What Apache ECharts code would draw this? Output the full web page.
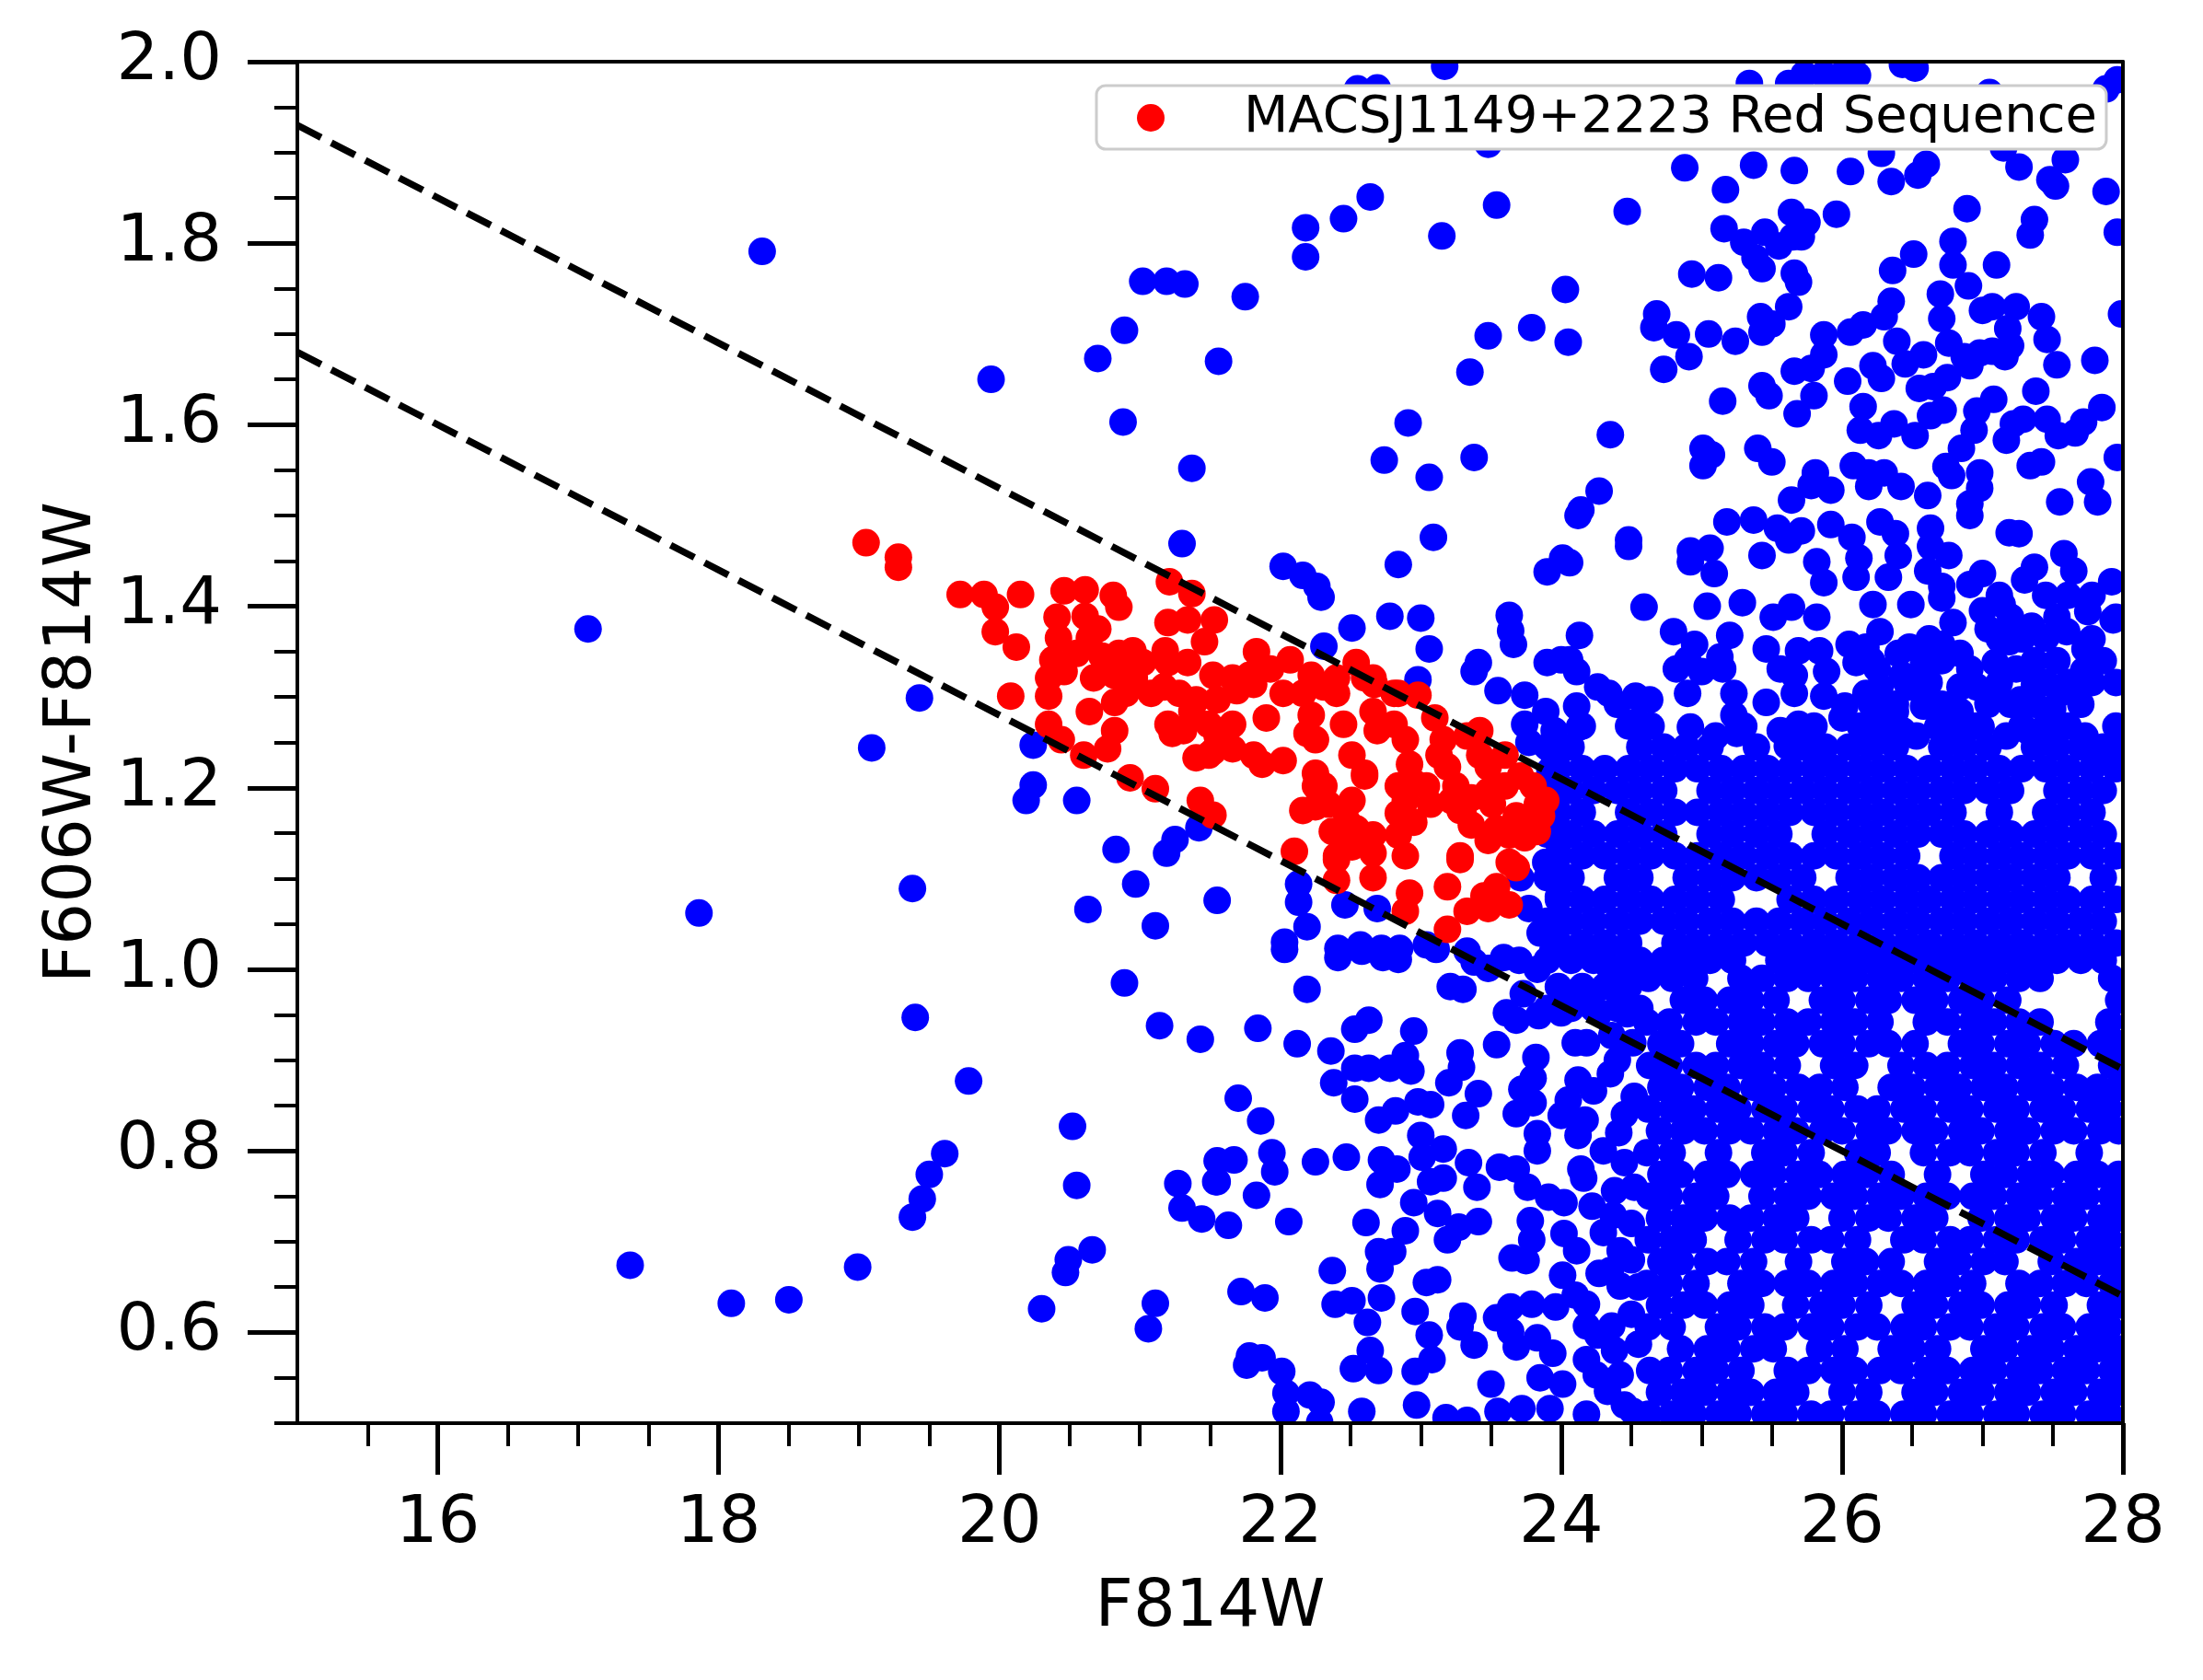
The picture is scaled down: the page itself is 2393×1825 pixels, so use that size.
<!DOCTYPE html>
<html>
<head>
<meta charset="utf-8">
<title>MACSJ1149+2223 colour-magnitude diagram</title>
<script src="https://cdn.jsdelivr.net/npm/echarts@6/dist/echarts.min.js"></script>
<style>
  html, body { margin: 0; padding: 0; background: #fff; }
  #chart { width: 2393px; height: 1825px; }
</style>
</head>
<body>
<div id="chart"></div>
<script>
// ---- data: [F814W, F606W-F814W] ----

// sparse blue points, bright end (F814W < 21.6)
const blueSparse = [
  [17.07,1.375],[18.31,1.791],[17.86,1.062],[17.37,0.674],[18.09,0.632],[18.50,0.636],[18.99,0.672],
  [19.09,1.244],[19.38,1.089],[19.40,0.947],[19.43,1.299],[19.78,0.877],[19.61,0.797],[19.50,0.774],
  [19.45,0.747],[19.38,0.727],[19.94,1.650],[20.30,0.626],[20.19,1.186],[20.24,1.203],[20.24,1.247],
  [20.55,1.186],[20.63,1.066],[20.52,0.827],[20.55,0.762],[20.47,0.666],[20.49,0.680],[20.66,0.691],
  [20.70,1.673],[20.88,1.603],[20.89,1.704],[20.83,1.132],[20.89,0.985],[20.97,1.094],[21.02,1.758],
  [21.19,1.758],[21.32,1.755],[21.11,1.048],[21.14,0.938],[21.11,0.632],[21.06,0.604],[21.27,0.764],
  [21.30,0.737],[21.37,1.552],[21.30,1.469],[21.19,1.128],[21.25,1.143],[21.42,1.156],[21.43,0.923],
  [21.44,0.725],[21.55,1.076],[21.55,0.766],[21.55,0.789]
];

// blue points between the bright end and the dense cloud
const blueMiddle = [
  [22.02,1.444],[22.16,1.434],[22.26,1.422],[22.29,1.410],[22.84,1.446],[23.90,1.438],[24.01,1.453],
  [22.78,1.389],[23.00,1.387],[22.51,1.376],[22.31,1.356],[23.06,1.353],[22.98,1.319],[23.63,1.390],
  [23.64,1.373],[23.66,1.358],[23.41,1.338],[23.38,1.328],[23.55,1.307],[23.74,1.302],[23.90,1.338],
  [24.00,1.341],[23.89,1.284],[23.95,1.263],[23.74,1.270],[23.77,1.250],[23.92,1.219],[23.95,1.235],
  [23.97,1.200],[23.95,1.170],[23.98,1.140],[23.96,1.110],[23.89,1.118],[23.98,1.080],[23.95,1.050],
  [23.77,1.067],[23.85,1.040],[23.71,1.101],[22.13,1.094],[22.13,1.074],[22.19,1.047],[22.46,1.071],
  [22.03,1.030],[22.41,1.023],[22.57,1.027],[22.72,1.023],[22.85,1.023],[22.69,1.067],[23.04,1.027],
  [23.33,1.020],
  [22.03,1.022],[22.41,1.013],[22.58,1.020],[22.73,1.013],[22.84,1.011],[23.11,1.022],[22.19,0.978],
  [23.21,0.981],[23.30,0.978],[23.38,1.008],[23.48,1.001],[23.59,1.013],[23.70,1.010],[23.83,1.000],
  [23.94,1.020],[24.05,1.022],[24.18,1.017],[24.34,1.003],[24.46,0.983],[24.52,1.006],
  [23.61,0.952],[23.68,0.944],[23.73,0.973],[23.84,0.949],[24.00,0.952],[24.05,0.973],[24.18,0.973],
  [24.27,0.952],[24.47,0.951],[24.51,0.919],[24.10,0.919],[24.18,0.919],[24.36,0.927],
  [21.84,0.935],[22.12,0.918],[22.36,0.910],[22.53,0.934],[22.63,0.944],[22.95,0.932],[22.89,0.905],
  [22.38,0.875],[22.53,0.891],[22.63,0.891],[22.78,0.891],[22.93,0.888],[22.53,0.857],[22.70,0.834],
  [22.82,0.844],[22.98,0.854],[23.07,0.851],[23.28,0.908],[23.29,0.892],[23.20,0.875],[23.41,0.863],
  [23.32,0.839],[23.54,0.917],[23.82,0.903],[23.80,0.880],[23.72,0.868],[23.80,0.853],[23.68,0.841],
  [24.12,0.878],[24.35,0.885],[24.23,0.866],[24.05,0.856],[24.00,0.839],[24.17,0.834],[23.83,0.819],
  [23.83,0.800],[24.12,0.817],[24.41,0.820],
  [21.70,0.858],[21.86,0.833],[21.67,0.790],[21.54,0.766],[21.94,0.798],[21.96,0.777],[22.25,0.788],
  [22.47,0.793],[22.72,0.790],[22.83,0.780],[22.71,0.763],[23.00,0.817],[23.16,0.802],[23.01,0.793],
  [23.07,0.766],[23.16,0.770],[23.34,0.787],[23.40,0.760],[23.56,0.782],[23.68,0.780],[23.76,0.760],
  [23.91,0.749],[24.02,0.743],[24.14,0.780],[24.16,0.770],[24.22,0.739],[24.38,0.756],[24.37,0.729],
  [24.45,0.787],
  [21.63,0.718],[21.83,0.751],[22.06,0.722],[22.61,0.721],[22.89,0.712],[22.95,0.743],[23.12,0.731],
  [23.19,0.702],[23.27,0.716],[23.41,0.722],[22.70,0.689],[22.80,0.689],[22.71,0.670],[23.78,0.723],
  [23.79,0.702],[23.65,0.682],[23.75,0.679],[24.02,0.709],[24.11,0.690],[24.42,0.690],[24.35,0.668],
  [24.27,0.665],[24.01,0.663],[24.42,0.651],
  [22.37,0.668],[23.12,0.658],[23.04,0.655],[21.72,0.645],[21.89,0.638],[22.39,0.631],[22.51,0.635],
  [22.62,0.611],[22.72,0.638],[22.96,0.623],[23.06,0.597],[23.30,0.618],[23.28,0.606],[23.38,0.586],
  [23.54,0.616],[23.64,0.628],[23.79,0.631],[23.64,0.601],[23.68,0.584],[23.83,0.594],[23.96,0.628],
  [23.94,0.577],[23.85,0.550],[24.01,0.543],[23.92,0.516],[24.10,0.641],[24.18,0.631],[24.18,0.607],
  [24.36,0.607],[24.26,0.597],[24.18,0.570],[24.25,0.553],[24.42,0.553],[24.55,0.587],[24.51,0.513],
  [21.78,0.574],[21.76,0.564],[21.87,0.572],[22.01,0.557],[22.04,0.533],[22.04,0.513],[22.21,0.531],
  [22.29,0.523],[22.28,0.501],[22.52,0.560],[22.64,0.580],[22.70,0.558],[22.58,0.513],[22.96,0.557],
  [23.08,0.570],[22.97,0.520],[23.18,0.506],[23.33,0.503],[23.50,0.543],[23.55,0.513],[23.72,0.516],
  [24.18,0.510],
  [24.45,0.970],[24.40,0.900],[24.52,0.860],[24.45,0.840],[24.30,0.800],[24.52,0.760],[24.50,0.720],
  [24.30,0.710],[24.50,0.680],[24.55,0.650],[24.50,0.620],[24.38,0.580],[24.45,0.520],[24.33,0.535]
];

// blue points in the upper half of the plot (colour > 1.47)
const blueUpper = [
  [23.17,1.995],[22.55,1.970],[22.69,1.971],[23.48,1.909],[22.64,1.851],[22.45,1.827],[22.18,1.817],
  [22.18,1.785],[23.15,1.808],[23.54,1.842],[24.47,1.835],[21.75,1.741],[21.56,1.670],[24.03,1.749],
  [23.79,1.707],[23.48,1.698],[24.05,1.691],[23.35,1.658],[24.68,1.722],[24.66,1.707],[24.82,1.699],
  [24.73,1.661],[22.91,1.602],[22.74,1.561],[23.06,1.542],[23.38,1.564],[24.35,1.589],[24.27,1.527],
  [24.14,1.506],[24.12,1.500],[23.09,1.476],[24.48,1.473],
  [25.34,1.976],[25.62,1.976],[25.73,1.986],[25.87,1.986],[26.00,1.986],[26.11,1.985],[26.43,1.997],
  [26.52,1.993],[27.05,1.966],[27.88,1.970],[27.96,1.980],
  [24.88,1.883],[25.37,1.886],[25.66,1.880],[26.06,1.879],[26.28,1.899],[26.35,1.868],[26.54,1.875],
  [26.60,1.887],[27.15,1.905],[27.26,1.884],[27.59,1.892],[27.48,1.870],[27.52,1.863],[27.88,1.857],
  [25.17,1.859],[25.64,1.834],[25.75,1.823],[25.96,1.832],[26.89,1.838],[27.37,1.826],[27.34,1.809],
  [27.96,1.812],[25.16,1.816],[25.30,1.801],[25.45,1.812],[25.38,1.784],[25.43,1.772],[25.65,1.807],
  [25.71,1.807],[25.55,1.797],[24.93,1.766],[25.12,1.762],[25.66,1.767],[25.69,1.757],[26.51,1.788],
  [26.79,1.802],[26.79,1.776],[26.90,1.753],[27.10,1.776],[26.36,1.770],[26.70,1.744],[26.71,1.717],
  [26.35,1.736],[26.30,1.719],[26.15,1.710],[26.06,1.702],[25.87,1.699],[25.87,1.677],[25.78,1.662],
  [25.66,1.659],[26.39,1.692],[26.58,1.677],[26.45,1.667],[26.22,1.665],[26.28,1.651],[26.04,1.648],
  [26.76,1.690],[26.87,1.675],[26.98,1.679],[27.07,1.681],[27.16,1.675],[26.91,1.665],[27.00,1.726],
  [27.07,1.730],[27.24,1.730],[27.18,1.706],[27.20,1.687],[27.42,1.719],[27.46,1.694],[27.53,1.666],
  [27.80,1.671],[27.99,1.722],[25.05,1.700],[25.24,1.692],[24.91,1.675],[25.42,1.719],[25.50,1.711],
  [25.43,1.702],[25.62,1.730],[26.75,1.652],[26.65,1.642],[26.55,1.640],[26.72,1.616],[26.63,1.610],
  [26.15,1.620],[26.13,1.594],[26.26,1.588],[26.37,1.601],[26.52,1.588],[27.08,1.628],[26.96,1.615],
  [26.94,1.594],[26.85,1.574],[27.17,1.583],[27.22,1.601],[27.29,1.606],[27.38,1.637],[27.46,1.606],
  [27.54,1.588],[27.66,1.591],[27.72,1.603],[27.85,1.619],[27.96,1.564],[25.15,1.626],[25.43,1.643],
  [25.48,1.632],[25.80,1.632],[25.68,1.612],[25.01,1.574],[25.07,1.567],[25.01,1.555],[25.40,1.574],
  [25.50,1.559],[25.81,1.547],[25.78,1.533],[25.92,1.528],[26.08,1.555],[26.19,1.547],[26.30,1.547],
  [26.19,1.532],[26.42,1.532],[26.61,1.522],[26.74,1.554],[26.78,1.544],[26.98,1.547],[26.98,1.530],
  [26.91,1.513],[27.34,1.555],[27.42,1.559],[27.77,1.537],[27.82,1.515],[27.55,1.515],[25.64,1.517]
];

// blue points, faint end, colour 1.25 - 1.5
const blueRight = [
  [24.48,1.466],[24.06,1.448],[24.92,1.461],[25.06,1.464],[24.92,1.449],[25.09,1.436],[25.18,1.493],
  [25.37,1.495],[25.43,1.456],[25.54,1.486],[25.62,1.473],[25.71,1.483],[25.92,1.490],[26.07,1.476],
  [26.12,1.453],[25.82,1.449],[25.87,1.426],[26.10,1.432],[26.27,1.493],[26.38,1.480],[26.40,1.456],
  [26.33,1.432],[26.63,1.486],[26.63,1.466],[26.76,1.456],[26.61,1.439],[26.91,1.500],[27.19,1.481],
  [27.26,1.480],[27.58,1.458],[27.65,1.439],[27.37,1.443],[27.30,1.429],[27.45,1.412],[27.00,1.436],
  [26.91,1.424],[26.71,1.422],[27.92,1.427],[27.75,1.394],[27.93,1.385],[27.60,1.372],[27.45,1.365],
  [27.35,1.378],[27.73,1.353],[27.72,1.329],[27.55,1.304],[27.68,1.304],[27.50,1.287],[27.37,1.314],
  [24.59,1.399],[24.13,1.368],[25.04,1.400],[25.29,1.404],[25.51,1.388],[25.64,1.399],[25.82,1.388],
  [26.22,1.402],[26.49,1.402],[26.27,1.372],[26.05,1.358],[26.17,1.355],[26.40,1.348],[26.48,1.355],
  [26.71,1.409],[27.00,1.395],[27.14,1.402],[26.79,1.382],[27.04,1.375],[27.19,1.361],[26.71,1.358],
  [26.84,1.348],[26.58,1.338],[26.91,1.331],[27.09,1.338],[27.24,1.331],[27.40,1.314],
  [24.80,1.372],[24.95,1.358],[25.20,1.368],[25.13,1.344],[24.90,1.341],[24.82,1.331],[25.00,1.328],
  [25.15,1.331],[25.46,1.353],[25.69,1.351],[25.84,1.351],[25.56,1.331],[25.66,1.324],[25.89,1.328],
  [26.10,1.338],[26.25,1.331],[26.43,1.324],[24.90,1.304],[25.23,1.304],[24.11,1.328],[24.06,1.341],
  [24.26,1.311],[24.34,1.304],[24.53,1.301],[24.63,1.297],[25.46,1.294],[25.66,1.304],[25.87,1.301],
  [26.02,1.290],[26.17,1.304],[26.27,1.311],[26.48,1.311],[26.58,1.321],[26.84,1.311],[26.96,1.311],
  [27.04,1.294],[27.27,1.297],[26.84,1.284],[26.58,1.290],[26.38,1.284],
  [24.11,1.290],[24.13,1.267],[24.54,1.273],[24.92,1.267],[25.23,1.280],[25.25,1.260],[25.10,1.257],
  [25.56,1.263],[25.69,1.270],[25.61,1.246],[25.76,1.253],[25.87,1.243],[26.00,1.277],[26.20,1.267],
  [26.22,1.250],[26.43,1.263],[26.53,1.257],[26.68,1.267],[26.84,1.253],[26.99,1.267],[27.17,1.257],
  [27.32,1.263],[27.50,1.263],[27.73,1.257],[27.81,1.236],[27.96,1.246]
];

// the crowded faint block, colour 0.95 - 1.41: one row per colour level, F814W values along it
const blueMidRows = [
  [1.412, [27.12,27.61,27.78]],
  [1.388, [27.20,27.53,27.95]],
  [1.364, [26.62,27.12,27.28,27.78]],
  [1.340, [26.21,26.71,27.37,27.53,27.86]],
  [1.316, [26.46,26.62,27.12,27.45,27.61,27.78,27.95]],
  [1.292, [24.40,26.21,26.38,26.71,27.04,27.20,27.37,27.70]],
  [1.268, [24.15,24.48,24.64,25.30,25.80,26.13,26.29,26.79,26.95,27.28,27.45,27.61,27.95]],
  [1.245, [23.90,24.07,24.56,24.73,24.89,25.06,25.39,25.72,25.88,26.05,26.21,26.38,26.71,26.87,27.04,27.37,27.53,27.70,27.86]],
  [1.221, [23.98,24.15,24.31,24.48,24.64,24.81,24.97,25.14,25.30,25.47,25.63,25.80,25.96,26.13,26.29,26.46,26.62,26.79,26.95,27.12,27.28,27.45,27.61,27.78,27.95]],
  [1.197, [23.90,24.07,24.23,24.40,24.56,24.73,25.06,25.22,25.39,25.55,25.72,25.88,26.05,26.21,26.38,26.54,26.71,26.87,27.04,27.20,27.53,27.70,27.86]],
  [1.173, [23.98,24.15,24.48,24.64,24.81,24.97,25.14,25.30,25.47,25.63,25.80,25.96,26.13,26.29,26.46,26.62,26.79,27.12,27.45,27.61,27.78]],
  [1.149, [23.90,24.07,24.23,24.40,24.56,24.73,25.06,25.22,25.39,25.55,25.88,26.05,26.21,26.38,26.54,26.71,26.87,27.04,27.20,27.37,27.53,27.70,27.86]],
  [1.125, [23.98,24.15,24.31,24.48,24.64,24.81,24.97,25.14,25.30,25.47,25.63,25.80,25.96,26.13,26.29,26.46,26.79,26.95,27.12,27.28,27.45,27.61,27.78,27.95]],
  [1.101, [23.90,24.07,24.40,24.56,24.89,25.06,25.22,25.39,25.55,25.72,26.05,26.21,26.38,26.54,26.71,26.87,27.04,27.20,27.37,27.53,27.86]],
  [1.077, [23.98,24.15,24.31,24.48,24.64,24.81,24.97,25.14,25.63,25.80,25.96,26.13,26.29,26.46,26.62,26.79,26.95,27.12,27.28,27.45,27.61,27.78,27.95]],
  [1.053, [23.90,24.07,24.23,24.40,24.56,24.73,24.89,25.06,25.22,25.39,25.55,25.72,25.88,26.05,26.21,26.38,26.54,26.71,26.87,27.04,27.20,27.37,27.53,27.70,27.86]],
  [1.029, [23.98,24.15,24.31,24.48,24.81,24.97,25.14,25.30,25.47,25.63,25.80,25.96,26.13,26.29,26.46,26.62,26.79,26.95,27.12,27.28,27.45,27.61,27.78,27.95]],
  [1.010, [23.90,24.07,24.23,24.40,24.56,24.73,24.89,25.06,25.22,25.55,25.72,25.88,26.05,26.21,26.38,26.54,26.71,26.87,27.04,27.20,27.37,27.53,27.70,27.86]],
  [0.981, [23.98,24.15,24.31,24.48]],
  [0.957, [23.90,24.07,24.23,24.40,24.56]]
];

// the crowded faint, blue corner (colour < 1.0)
const blueDenseRows = [
  [0.990, [24.62,24.79,24.95,25.28,25.43,25.61,25.76,25.94,26.09,26.27,26.42,26.60,26.75,26.93,27.08,27.26,27.41,27.92]],
  [0.966, [24.87,25.02,25.20,25.35,25.53,25.86,26.00,26.19,26.33,26.52,26.66,26.85,26.99,27.18,27.97]],
  [0.942, [24.61,24.77,24.96,25.10,25.28,25.43,25.61,25.76,25.94,26.09,26.27,26.60,26.75,26.93,27.08,27.26,27.41,27.90]],
  [0.918, [24.71,24.85,25.20,25.35,25.53,25.67,25.86,26.00,26.19,26.33,26.52,26.85,26.99,27.18,27.32,27.51,27.65,27.84,27.97]],
  [0.894, [24.63,24.77,24.96,25.10,25.28,25.43,25.61,25.94,26.09,26.42,26.60,26.75,26.93,27.08,27.26,27.41,27.59,27.92]],
  [0.870, [24.71,24.85,25.04,25.18,25.37,25.51,25.69,25.84,26.02,26.35,26.50,26.68,26.83,27.01,27.16,27.34,27.49,27.67,27.82,27.97]],
  [0.846, [24.62,24.79,24.94,25.12,25.26,25.45,25.59,25.78,25.92,26.11,26.25,26.44,26.58,26.77,26.91,27.10,27.24,27.43,27.57,27.76,27.90]],
  [0.822, [24.70,24.87,25.02,25.20,25.35,25.53,25.67,25.86,26.00,26.19,26.33,26.52,26.66,26.85,26.99,27.18,27.32,27.51,27.65,27.84,27.97]],
  [0.798, [24.61,24.79,25.12,25.45,25.59,25.78,26.11,26.25,26.58,26.77,26.91,27.10,27.24,27.43,27.76]],
  [0.774, [24.71,24.85,25.04,25.18,25.37,25.51,25.69,25.84,26.02,26.17,26.35,26.68,27.01,27.16,27.34,27.49,27.67,27.82,27.97]],
  [0.750, [24.63,24.77,24.96,25.10,25.43,25.61,25.76,25.94,26.09,26.27,26.42,26.60,26.75,26.93,27.08,27.26,27.41,27.59,27.74,27.92]],
  [0.726, [24.70,24.87,25.02,25.20,25.35,25.53,25.67,26.00,26.19,26.33,26.52,26.66,26.99,27.18,27.32,27.51,27.65,27.84,27.97]],
  [0.702, [24.62,24.79,24.94,25.26,25.45,25.59,25.78,25.92,26.11,26.44,26.58,26.77,26.91,27.10,27.24,27.43,27.57,27.76,27.90]],
  [0.678, [24.71,24.85,25.04,25.18,25.37,25.69,26.02,26.17,26.35,26.68,26.83,27.01,27.16,27.49,27.67,27.82,27.97]],
  [0.654, [24.61,24.77,24.96,25.28,25.43,25.61,25.76,25.94,26.09,26.27,26.42,26.60,26.75,26.93,27.26,27.41,27.59,27.74,27.92]],
  [0.630, [24.70,24.87,25.02,25.20,25.35,25.67,25.86,26.00,26.19,26.52,26.66,26.85,26.99,27.18,27.32,27.51,27.84,27.97]],
  [0.606, [24.62,24.79,25.12,25.26,25.45,25.59,25.78,25.92,26.11,26.25,26.44,26.58,26.77,26.91,27.10,27.24,27.43,27.57,27.76,27.90]],
  [0.582, [24.85,25.04,25.18,25.37,25.51,25.84,26.02,26.35,26.50,26.68,27.01,27.16,27.34,27.49,27.67,27.82,27.97]],
  [0.558, [24.63,24.77,24.96,25.10,25.28,25.61,25.76,25.94,26.09,26.27,26.42,26.60,26.75,26.93,27.08,27.26,27.41,27.59,27.74,27.92]],
  [0.534, [24.70,24.87,25.02,25.20,25.35,25.53,25.67,26.00,26.19,26.52,26.66,26.85,26.99,27.18,27.32,27.51,27.65,27.84,27.97]],
  [0.510, [24.62,24.79,24.94,25.12,25.26,25.45,25.59,25.78,25.92,26.11,26.25,26.44,26.58,26.77,26.91,27.10,27.24,27.43,27.57,27.76,27.90]]
];

// red sequence members
const redSequence = [
  [19.05,1.470],[19.28,1.454],[19.28,1.443],
  [19.72,1.413],[19.89,1.413],[19.97,1.399],[20.15,1.413],[19.97,1.372],[20.12,1.355],
  [20.46,1.417],[20.61,1.418],[20.81,1.412],[20.85,1.399],[20.41,1.388],[20.61,1.389],[20.70,1.375],
  [20.42,1.365],[20.64,1.365],[20.38,1.341],[20.55,1.348],[20.73,1.345],[20.85,1.348],[20.95,1.351],
  [20.35,1.321],[20.46,1.328],[20.67,1.321],[20.82,1.324],[20.96,1.321],[20.96,1.331],[21.02,1.338],
  [20.08,1.301],[20.35,1.301],[20.82,1.294],[20.64,1.284],[20.35,1.270],[20.44,1.253],[20.60,1.236],
  [20.77,1.243],[20.82,1.263],[20.90,1.304],[21.08,1.304],[21.28,1.304],
  [21.21,1.427],[21.37,1.414],[21.20,1.382],[21.34,1.385],[21.53,1.385],[21.46,1.361],[21.18,1.351],
  [21.20,1.338],[21.34,1.338],[21.17,1.311],[21.52,1.324],[21.40,1.297],[21.55,1.297],[21.37,1.284],
  [21.20,1.270],[21.23,1.260],[21.49,1.270],[21.55,1.257],[21.40,1.233],[21.52,1.240],[21.66,1.270],
  [21.66,1.243],[21.31,1.263],[21.49,1.236],[21.66,1.321],[21.78,1.324],
  [21.83,1.350],[22.07,1.341],[21.81,1.314],[21.69,1.307],[21.90,1.277],[21.87,1.226],[21.81,1.236],
  [22.02,1.304],[22.02,1.230],[22.16,1.304],[22.22,1.280],[22.19,1.260],[22.31,1.311],[22.40,1.304],
  [22.60,1.321],[22.67,1.314],[22.84,1.304],[22.81,1.304],[22.98,1.302],[21.93,1.331],[22.22,1.324],
  [22.40,1.321],[22.54,1.338],[22.66,1.321],
  [22.25,1.253],[22.25,1.216],[22.31,1.202],[22.25,1.202],[22.45,1.270],[22.51,1.236],[22.51,1.186],
  [22.66,1.284],[22.69,1.263],[22.60,1.216],[22.81,1.270],[22.89,1.253],[22.92,1.226],[22.95,1.206],
  [22.89,1.186],[22.84,1.202],[22.95,1.162],
  [23.10,1.277],[23.16,1.253],[23.13,1.236],[23.19,1.223],[23.25,1.202],[23.33,1.257],[23.42,1.263],
  [23.42,1.236],[23.48,1.223],[23.48,1.196],[23.60,1.236],[23.71,1.213],[23.80,1.202],[23.83,1.182],
  [23.83,1.152],[23.68,1.169],[23.63,1.148],[23.54,1.155],[23.48,1.142],[23.36,1.159],[23.28,1.175],
  [23.22,1.186],[23.04,1.202],[23.07,1.182],[23.36,1.189],[23.60,1.202],[23.51,1.182],[23.30,1.175],
  [23.86,1.169],[23.89,1.186],[23.74,1.145],
  [22.84,1.148],[22.84,1.172],[22.89,1.125],[22.92,1.084],[22.89,1.064],[22.66,1.128],[22.66,1.148],
  [22.54,1.155],[22.43,1.148],[22.40,1.125],[22.40,1.121],[22.16,1.175],[22.25,1.179],[22.10,1.130],
  [22.40,1.098],[22.46,1.175],[22.34,1.182],[22.37,1.152],[22.48,1.162],[22.51,1.135],[22.66,1.101],
  [22.60,1.213],
  [23.28,1.125],[23.28,1.121],[23.19,1.091],[23.33,1.064],[23.45,1.081],[23.54,1.091],[23.63,1.071],
  [23.68,1.112],[23.63,1.118],[23.48,1.067],[23.19,1.044],
  [21.43,1.186],[21.52,1.170],[20.93,1.211],[21.11,1.199]
];

// the two dashed selection lines
const upperCut = [[15, 1.93], [28, 0.89]];
const lowerCut = [[15, 1.68], [28, 0.64]];

// ticks and labels
const xMajorTicks = [16, 18, 20, 22, 24, 26, 28];
const xMinorTicks = [15.5, 16.5, 17, 17.5, 18.5, 19, 19.5, 20.5, 21, 21.5, 22.5, 23, 23.5, 24.5, 25, 25.5, 26.5, 27, 27.5];
const yMajorTicks = [0.6, 0.8, 1.0, 1.2, 1.4, 1.6, 1.8, 2.0];
const yMinorTicks = [0.5, 0.55, 0.65, 0.7, 0.75, 0.85, 0.9, 0.95, 1.05, 1.1, 1.15, 1.25, 1.3, 1.35,
  1.45, 1.5, 1.55, 1.65, 1.7, 1.75, 1.85, 1.9, 1.95];

const redName = 'MACSJ1149+2223 Red Sequence';

// ---- chart ----
const FONT = "'DejaVu Sans', sans-serif";
const chart = echarts.init(document.getElementById('chart'));

const blueData = [].concat(blueSparse, blueMiddle, blueUpper, blueRight);
blueMidRows.concat(blueDenseRows).forEach(([y, xs]) => {
  xs.forEach(x => blueData.push([x, y]));
});

const labelStyle = { fontSize: 72, fontFamily: FONT, color: '#000' };
const spine = { show: true, onZero: false, lineStyle: { color: '#000', width: 4 } };

// white strips outside the plot area so markers look clipped at the spines
const GRID = { left: 323, right: 87, top: 67, bottom: 279 };
const W = 2393, H = 1825;
const masks = [
  [0, 0, GRID.left, H],
  [W - GRID.right, 0, GRID.right, H],
  [0, 0, W, GRID.top],
  [0, H - GRID.bottom, W, GRID.bottom]
].map(([x, y, w, h]) => ({
  type: 'rect', z: 5, silent: true,
  shape: { x, y, width: w, height: h },
  style: { fill: '#fff' }
}));

const option = {
  animation: false,
  backgroundColor: '#fff',
  grid: GRID,
  graphic: { elements: masks },
  legend: {
    data: [redName],
    left: 1191,
    top: 93,
    icon: 'circle',
    itemWidth: 30,
    itemHeight: 30,
    selectedMode: false,
    padding: [7, 10, 6, 44],
    backgroundColor: '#fff',
    borderColor: '#cccccc',
    borderWidth: 3,
    borderRadius: 10,
    textStyle: { fontSize: 56, fontFamily: FONT, color: '#000', padding: [0, 0, 0, 81] },
    z: 20
  },
  xAxis: [
    {
      type: 'value', min: 15, max: 28, position: 'bottom', z: 10,
      name: 'F814W', nameLocation: 'middle', nameGap: 165, nameTextStyle: labelStyle,
      axisLine: spine,
      axisTick: { show: true, customValues: xMinorTicks, length: 25, lineStyle: { color: '#000', width: 4 } },
      axisLabel: Object.assign({ customValues: xMajorTicks, margin: 74 }, labelStyle),
      splitLine: { show: false }
    },
    {
      type: 'value', min: 15, max: 28, position: 'bottom', z: 10,
      axisLine: { show: false },
      axisTick: { show: true, customValues: xMajorTicks, length: 56, lineStyle: { color: '#000', width: 5 } },
      axisLabel: { show: false },
      splitLine: { show: false }
    },
    {
      type: 'value', min: 15, max: 28, position: 'top', z: 10,
      axisLine: spine, axisTick: { show: false }, axisLabel: { show: false }, splitLine: { show: false }
    }
  ],
  yAxis: [
    {
      type: 'value', min: 0.5, max: 2.0, position: 'left', z: 10,
      name: 'F606W-F814W', nameLocation: 'middle', nameGap: 200, nameTextStyle: labelStyle,
      axisLine: spine,
      axisTick: { show: true, customValues: yMinorTicks, length: 25, lineStyle: { color: '#000', width: 4 } },
      axisLabel: Object.assign({ customValues: yMajorTicks, margin: 82, formatter: v => v.toFixed(1) }, labelStyle),
      splitLine: { show: false }
    },
    {
      type: 'value', min: 0.5, max: 2.0, position: 'left', z: 10,
      axisLine: { show: false },
      axisTick: { show: true, customValues: yMajorTicks, length: 54, lineStyle: { color: '#000', width: 5 } },
      axisLabel: { show: false },
      splitLine: { show: false }
    },
    {
      type: 'value', min: 0.5, max: 2.0, position: 'right', z: 10,
      axisLine: spine, axisTick: { show: false }, axisLabel: { show: false }, splitLine: { show: false }
    }
  ],
  series: [
    {
      name: 'all galaxies',
      type: 'scatter',
      data: blueData,
      symbol: 'circle',
      symbolSize: 30,
      itemStyle: { color: '#0000ff', opacity: 1 },
      silent: true,
      z: 2
    },
    {
      name: redName,
      type: 'scatter',
      data: redSequence,
      symbol: 'circle',
      symbolSize: 30,
      itemStyle: { color: '#ff0000', opacity: 1 },
      silent: true,
      z: 3
    },
    {
      type: 'line', data: upperCut, symbol: 'none', silent: true, z: 4,
      lineStyle: { color: '#000', width: 7.5, type: [29, 12.5] }
    },
    {
      type: 'line', data: lowerCut, symbol: 'none', silent: true, z: 4,
      lineStyle: { color: '#000', width: 7.5, type: [29, 12.5] }
    }
  ]
};

chart.setOption(option);
</script>
</body>
</html>
